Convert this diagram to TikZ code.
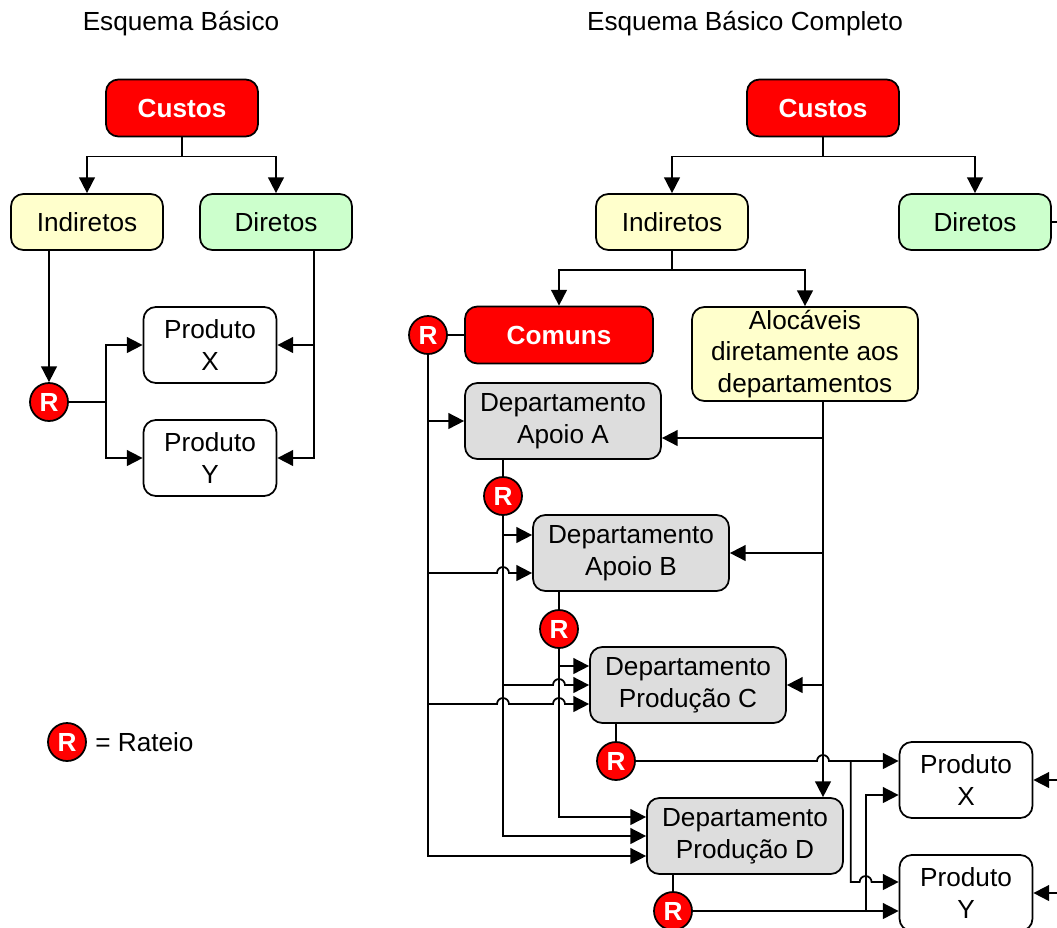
\documentclass[tikz,border=0pt]{standalone}
\usepackage{fontspec}
\setmainfont{Liberation Sans}
\usepackage{tikz}
\usetikzlibrary{arrows.meta}
\usetikzlibrary{calc}
\usepackage{xcolor}
\definecolor{amarelo}{RGB}{255,255,204}
\definecolor{verde}{RGB}{204,255,204}
\definecolor{cinza}{RGB}{221,221,221}
\definecolor{vermelho}{RGB}{255,0,0}
\newcommand{\fonte}{\fontsize{14.9}{18}\selectfont}

\tikzset{
  caixa/.style={draw, line width=1pt, rounded corners=7pt, align=center, inner sep=0pt, font=\fonte},
  custo/.style={caixa, fill=vermelho, text=white, font=\fonte\bfseries, minimum width=3.04cm, minimum height=1.14cm},
  indireto/.style={caixa, fill=amarelo, minimum width=3.04cm, minimum height=1.12cm},
  direto/.style={caixa, fill=verde, minimum width=3.04cm, minimum height=1.12cm},
  produto/.style={caixa, fill=white, minimum width=2.66cm, minimum height=1.52cm},
  depto/.style={caixa, fill=cinza, minimum width=3.92cm, minimum height=1.52cm},
  rateio/.style={circle, draw, line width=1pt, fill=vermelho, text=white, font=\fonte\bfseries, minimum size=0.76cm, inner sep=0pt},
  linha/.style={line width=1pt},
  seta/.style={linha, -{Triangle[length=9pt,width=9pt]}},
  hop/.style={insert path={arc[start angle=180,end angle=0,radius=3.4pt]}}
}

\begin{document}
\begin{tikzpicture}[x=0.02cm, y=-0.02cm]
        \useasboundingbox (0,0) rectangle (1057,927);
        % esquema basico
        \node[font=\fonte] (tituloL) at (181,24) {Esquema Básico};
        \node[custo] (custosL) at (182,108) {Custos};
        \node[indireto] (indL) at (87,222) {Indiretos};
        \node[direto] (dirL) at (276,222) {Diretos};
        \node[rateio] (rL) at (49,402) {R};
        \node[produto] (prodXL) at (210,345) {Produto\\X};
        \node[produto] (prodYL) at (210,458) {Produto\\Y};
        \node[rateio] (rLeg) at (67,742) {R};
        \node[font=\fonte, anchor=west, inner sep=0pt] (legenda) at (95,742) {= Rateio};

        \draw[seta] (custosL.south) -- ++(0,19) -| (indL.north);
        \draw[seta] (custosL.south) -- ++(0,19) -| (dirL.north);
        \draw[seta] (rL.north |- indL.south) -- (rL.north);
        \draw[seta] (rL.east) -- ++(37,0) |- (prodXL.west);
        \draw[seta] (rL.east) -- ++(37,0) |- (prodYL.west);
        \draw[seta] (dirL.south) ++(38,0) |- (prodXL.east);
        \draw[seta] (dirL.south) ++(38,0) |- (prodYL.east);

        % esquema basico completo
        \node[font=\fonte] (tituloR) at (745,24) {Esquema Básico Completo};
        \node[custo] (custos) at (823,108) {Custos};
        \node[indireto] (ind) at (672,222) {Indiretos};
        \node[direto] (dir) at (975,222) {Diretos};
        \node[custo, minimum width=3.76cm] (comuns) at (559,335) {Comuns};
        \node[indireto, minimum width=4.52cm, minimum height=1.88cm] (aloc) at (805,354) {Alocáveis\\diretamente aos\\departamentos};
        \node[rateio] (rCom) at (428,335) {R};
        \node[depto] (depA) at (563,421) {Departamento\\Apoio A};
        \node[rateio] (rA) at (503,496) {R};
        \node[depto] (depB) at (631,553) {Departamento\\Apoio B};
        \node[rateio] (rB) at (559,629) {R};
        \node[depto] (depC) at (688,685) {Departamento\\Produção C};
        \node[rateio] (rC) at (616,761) {R};
        \node[depto] (depD) at (745,836) {Departamento\\Produção D};
        \node[rateio] (rD) at (673,911) {R};
        \node[produto] (prodX) at (966,780) {Produto\\X};
        \node[produto] (prodY) at (966,893) {Produto\\Y};

        \coordinate (al) at ($(aloc.south)+(18,0)$);
        \coordinate (sC) at ($(prodX.west |- rC)+(-48,0)$);
        \coordinate (sD) at ($(prodY.west |- rD)+(-33,0)$);
        \coordinate (dd) at ($(dir.east)+(20,0)$);

        \draw[seta] (custos.south) -- ++(0,19) -| (ind.north);
        \draw[seta] (custos.south) -- ++(0,19) -| (dir.north);
        \draw[seta] (ind.south) -- ++(0,19) -| (comuns.north);
        \draw[seta] (ind.south) -- ++(0,19) -| (aloc.north);
        \draw[linha] (rCom.east) -- (comuns.west);

        % rateio dos comuns
        \draw[seta] (rCom.south) |- (depA.west);
        \draw[seta] (rCom.south) |- ($(rA |- depB.west)+(-6,20)$) [hop] -- ($(depB.west)+(0,20)$);
        \draw[seta] (rCom.south) |- ($(rA |- depC.west)+(-6,19)$) [hop] -- ($(rB |- depC.west)+(-6,19)$) [hop] -- ($(depC.west)+(0,19)$);
        \draw[seta] (rCom.south) |- ($(depD.west)+(0,20)$);

        % rateio dos departamentos
        \draw[linha] (rA.north |- depA.south) -- (rA.north);
        \draw[seta] (rA.south) |- ($(depB.west)+(0,-18)$);
        \draw[seta] (rA.south) |- ($(rB |- depC.west)+(-6,0)$) [hop] -- (depC.west);
        \draw[seta] (rA.south) |- (depD.west);
        \draw[linha] (rB.north |- depB.south) -- (rB.north);
        \draw[seta] (rB.south) |- ($(depC.west)+(0,-19)$);
        \draw[seta] (rB.south) |- ($(depD.west)+(0,-19)$);
        \draw[linha] (rC.north |- depC.south) -- (rC.north);
        \draw[seta] (rC.east) -- ($(al |- rC)+(-6,0)$) [hop] -- (prodX.west |- rC);
        \draw[seta] (sC) |- ($(sD |- prodY.west)+(-6,-11)$) [hop] -- ($(prodY.west)+(0,-11)$);
        \draw[linha] (rD.north |- depD.south) -- (rD.north);
        \draw[seta] (rD.east) -- (prodY.west |- rD);
        \draw[seta] (sD) |- ($(prodX.west)+(0,15)$);

        % alocaveis
        \draw[seta] (al) |- ($(depA.east)+(0,17)$);
        \draw[seta] (al) |- (depB.east);
        \draw[seta] (al) |- (depC.east);
        \draw[seta] (al) -- (al |- depD.north);

        % diretos
        \draw[linha] (dir.east) -- (dd);
        \draw[seta] (dd) |- (prodX.east);
        \draw[seta] (dd) |- (prodY.east);
      \end{tikzpicture}
\end{document}
